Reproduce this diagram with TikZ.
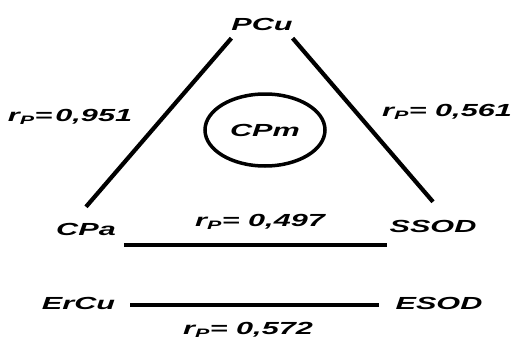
\documentclass[tikz,border=0pt]{standalone}
\usepackage{fontspec}
\newfontfamily\figfont{Liberation Sans}[FakeStretch=1.75]
\usepackage{tikz}
\usetikzlibrary{shapes.geometric,calc}

\begin{document}
\begin{tikzpicture}[x=1pt,y=-1pt,
  font=\figfont\bfseries\itshape\fontsize{17.5}{20}\selectfont,
  var/.style={inner sep=0pt,outer sep=0pt},
  coef/.style={inner sep=0pt,outer sep=0pt},
  grp/.style={draw,ellipse,line width=3.5pt,inner sep=0pt,
              minimum width=120pt,minimum height=72pt},
  link/.style={line width=4.2pt,draw=black}]

\useasboundingbox[fill=white] (0,0) rectangle (511,340);

\node[var] (pcu) at (262,24) {PCu};
\node[var] (cpa) at (86,229) {CPa};
\node[var] (ssod) at (433,226) {SSOD};
\node[var] (ercu) at (78.5,303.5) {ErCu};
\node[var] (esod) at (439,303.5) {ESOD};
\node[grp] (cpm) at (265,130) {CPm};

\draw[link] ([yshift=-8pt]pcu.south west) -- ([yshift=16pt]cpa.north);
\draw[link] ([yshift=-8pt]pcu.south east) -- ([yshift=18pt]ssod.north);
\draw[link] ([xshift=8pt,yshift=-10pt]cpa.south east)
  -- ([xshift=-3pt,yshift=-10pt]cpa.south east -| ssod.south west);
\draw[link] ([xshift=15pt,yshift=-1.5pt]ercu.east)
  -- ([xshift=-17pt,yshift=-1.5pt]esod.west);

\node[coef] (c1) at (70,117) {r\textsubscript{P}=\,0,951};
\node[coef] (c2) at (447,112) {r\textsubscript{P}= 0,561};
\node[coef] (c3) at (260,222) {r\textsubscript{P}= 0,497};
\node[coef] (c4) at (248,330) {r\textsubscript{P}= 0,572};
\end{tikzpicture}
\end{document}
